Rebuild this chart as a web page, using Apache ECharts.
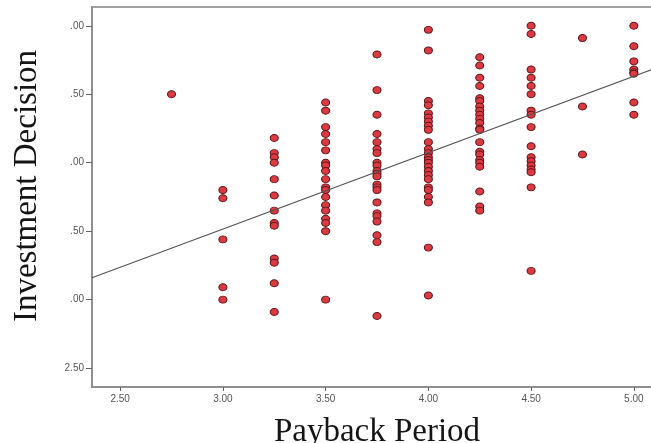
<!DOCTYPE html>
<html>
<head>
<meta charset="utf-8">
<script src="https://cdn.jsdelivr.net/npm/echarts@6/dist/echarts.min.js"></script>
<style>
html,body{margin:0;padding:0;background:#fff;}
#chart{width:651px;height:443px;}
</style>
</head>
<body>
<div id="chart"></div>
<script>
// Payback period categories (x) and investment decision values (y) per column
var paybackLevels = [2.75, 3.00, 3.25, 3.50, 3.75, 4.00, 4.25, 4.50, 4.75, 5.00];
var decisionAt275 = [4.50];
var decisionAt300 = [3.80, 3.74, 3.44, 3.09, 3.00];
var decisionAt325 = [4.18, 4.07, 4.04, 4.00, 3.88, 3.76, 3.65, 3.56, 3.54, 3.30, 3.27, 3.12, 2.91];
var decisionAt350 = [4.44, 4.38, 4.26, 4.21, 4.15, 4.09, 4.00, 3.98, 3.94, 3.88, 3.82, 3.80, 3.75, 3.69, 3.65, 3.59, 3.56, 3.50, 3.00];
var decisionAt375 = [4.79, 4.53, 4.35, 4.21, 4.15, 4.10, 4.07, 4.00, 3.98, 3.94, 3.92, 3.90, 3.84, 3.82, 3.80, 3.71, 3.63, 3.61, 3.57, 3.47, 3.42, 2.88];
var decisionAt400 = [4.97, 4.82, 4.45, 4.42, 4.36, 4.33, 4.30, 4.27, 4.24, 4.15, 4.10, 4.07, 4.04, 4.02, 4.00, 3.97, 3.94, 3.91, 3.88, 3.82, 3.80, 3.75, 3.71, 3.38, 3.03];
var decisionAt425 = [4.77, 4.71, 4.62, 4.56, 4.47, 4.45, 4.41, 4.38, 4.35, 4.32, 4.29, 4.25, 4.24, 4.15, 4.08, 4.06, 4.02, 4.00, 3.97, 3.79, 3.68, 3.65];
var decisionAt450 = [5.00, 4.94, 4.68, 4.62, 4.56, 4.50, 4.38, 4.35, 4.26, 4.12, 4.04, 4.01, 3.98, 3.95, 3.93, 3.82, 3.21];
var decisionAt475 = [4.91, 4.41, 4.06];
var decisionAt500 = [5.00, 4.85, 4.74, 4.68, 4.66, 4.65, 4.44, 4.35];

// Fit line endpoints
var fitLineX = [2.363, 5.137];
var fitLineY = [3.160, 4.707];

// Tick values and labels
var xTickValues = [2.5, 3.0, 3.5, 4.0, 4.5, 5.0];
var xTickLabels = ['2.50', '3.00', '3.50', '4.00', '4.50', '5.00'];
var yTickValues = [2.5, 3.0, 3.5, 4.0, 4.5, 5.0];
var yTickLabels = ['2.50', '.00', '.50', '.00', '.50', '.00'];

var columns = [decisionAt275, decisionAt300, decisionAt325, decisionAt350, decisionAt375,
               decisionAt400, decisionAt425, decisionAt450, decisionAt475, decisionAt500];
var points = [];
columns.forEach(function (col, i) {
  col.forEach(function (v) { points.push([paybackLevels[i], v]); });
});
var fitData = [[fitLineX[0], fitLineY[0]], [fitLineX[1], fitLineY[1]]];

function labelFor(values, labels) {
  return function (v) {
    for (var i = 0; i < values.length; i++) {
      if (Math.abs(values[i] - v) < 1e-6) return labels[i];
    }
    return '';
  };
}

var chart = echarts.init(document.getElementById('chart'), null, {renderer: 'canvas'});
chart.setOption({
  animation: false,
  backgroundColor: '#ffffff',
  grid: {
    left: 92, right: -11, top: 7, bottom: 56,
    outerBoundsMode: 'none',
    containLabel: false,
    show: true, borderColor: '#a0a0a0', borderWidth: 2, backgroundColor: '#ffffff'
  },
  xAxis: {
    type: 'value',
    min: 2.363, max: 5.137,
    name: 'Payback Period',
    nameLocation: 'middle',
    nameGap: 29,
    nameTextStyle: {fontFamily: 'Liberation Serif', fontSize: 33, color: '#151515'},
    splitLine: {show: false},
    axisLine: {show: true, onZero: false, lineStyle: {color: '#8a8a8a', width: 1.5}},
    axisTick: {show: true, length: 4, customValues: xTickValues, lineStyle: {color: '#666'}},
    axisLabel: {
      customValues: xTickValues,
      formatter: labelFor(xTickValues, xTickLabels),
      fontFamily: 'Liberation Sans', fontSize: 10, color: '#555', margin: 7
    }
  },
  yAxis: {
    type: 'value',
    min: 2.362, max: 5.137,
    name: 'Investment Decision',
    nameLocation: 'middle',
    nameGap: 48,
    nameTextStyle: {fontFamily: 'Liberation Serif', fontSize: 33, color: '#151515', padding: [0, 0, 0, 22]},
    splitLine: {show: false},
    axisLine: {show: true, onZero: false, lineStyle: {color: '#8a8a8a', width: 1.5}},
    axisTick: {show: true, length: 6, customValues: yTickValues, lineStyle: {color: '#666'}},
    axisLabel: {
      customValues: yTickValues,
      formatter: labelFor(yTickValues, yTickLabels),
      fontFamily: 'Liberation Sans', fontSize: 10, color: '#555', margin: 8
    }
  },
  series: [
    {
      type: 'scatter',
      data: points,
      symbol: 'circle',
      symbolSize: [8, 7],
      itemStyle: {color: '#dc3a42', borderColor: '#5e1518', borderWidth: 1, opacity: 1},
      z: 2
    },
    {
      type: 'line',
      data: fitData,
      showSymbol: false,
      symbol: 'none',
      lineStyle: {color: '#555555', width: 1.2},
      z: 3
    }
  ]
});
</script>
</body>
</html>
